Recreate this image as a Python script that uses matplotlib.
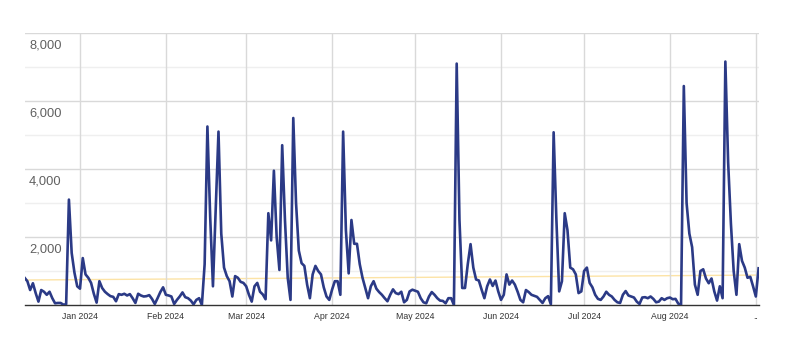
import pandas as pd
import matplotlib
matplotlib.use('Agg')
import matplotlib.pyplot as plt

# daily values, first day 2023-12-12
start_day = '2023-12-12'
visits = [
    800, 700, 440, 640, 350, 100, 440, 390, 300, 390,       # Dec 12 - 21
    200, 50, 60, 60, 10, 20, 3100, 1530, 950, 550,          # Dec 22 - 31
    480, 1380, 900, 800, 650, 330, 70, 700, 500, 390,       # Jan 1 - 10
    320, 260, 240, 110, 320, 300, 330, 280, 320, 200,
    60, 330, 280, 250, 260, 290, 180, 30, 200, 380,
    520,
    300, 280, 250, 30, 150, 250, 370, 230, 200, 130,        # Feb
    20, 150, 200, 0, 1200, 5250, 2600, 550, 2800, 5100,
    2100, 1100, 850, 700, 250, 850, 800, 680, 650,
    550, 300, 100, 550, 650, 390, 310, 170, 2700, 1900,     # Mar
    3950, 2000, 1030, 4700, 2500, 800, 150, 5500, 3000, 1600,
    1230, 1150, 600, 200, 900, 1150, 1000, 900, 520, 250,
    150,
    450, 700, 700, 300, 5100, 2200, 930, 2500, 1800, 1800,  # Apr
    1200, 800, 500, 200, 550, 700, 480, 380, 300, 200,
    110, 300, 460, 350, 320, 390, 80, 150, 400, 450,
    420, 390, 200, 80, 50, 250, 380, 300, 200, 130,         # May
    120, 50, 200, 200, 0, 7100, 2500, 500, 500, 1200,
    1790, 1100, 750, 720, 450, 200, 550, 750, 560, 720,
    400,
    150, 300, 900, 600, 720, 600, 390, 150, 80, 440,        # Jun
    380, 300, 270, 240, 150, 60, 200, 260, 20, 5080,
    2500, 400, 700, 2700, 2200, 1100, 1050, 900, 350, 400,
    1000, 1100, 650, 520, 300, 180, 150, 250, 390, 300,     # Jul
    250, 150, 80, 60, 300, 410, 280, 250, 220, 100,
    30, 220, 230, 200, 250, 180, 80, 100, 200, 150,
    200,
    220, 170, 180, 40, 0, 6440, 3000, 2100, 1700, 600,      # Aug
    300, 1000, 1050, 780, 640, 780, 400, 130, 550, 200,
    7160, 4200, 2400, 1000, 300, 1790, 1300, 1100, 800, 830,
    550,
    250, 1080,                                              # Sep
]
trend_ends = [735, 880]

month_starts = ['2024-01-01', '2024-02-01', '2024-03-01', '2024-04-01',
                '2024-05-01', '2024-06-01', '2024-07-01', '2024-08-01',
                '2024-09-01']
month_labels = ['Jan 2024', 'Feb 2024', 'Mar 2024', 'Apr 2024', 'May 2024',
                'Jun 2024', 'Jul 2024', 'Aug 2024', '..']
y_major = [2000, 4000, 6000, 8000]
y_minor = [1000, 3000, 5000, 7000]

plt.rcParams['font.family'] = ['Liberation Sans', 'DejaVu Sans']

dates = pd.date_range(start_day, periods=len(visits), freq='D')
ticks = pd.to_datetime(month_starts)

fig = plt.figure(figsize=(7.99, 3.42), dpi=100)
ax = fig.add_axes([24.6 / 799, 1 - 305 / 342, 734 / 799, 272 / 342])

for v in y_minor:
    ax.axhline(v, color='#efefef', lw=1, zorder=0)
for v in y_major:
    ax.axhline(v, color='#d9d9d9', lw=1, zorder=0)
    ax.annotate(f'{v:,}', xy=(0, v), xycoords=('axes fraction', 'data'),
                xytext=(3.2, -4.6), textcoords='offset points',
                ha='left', va='top', fontsize=9.3, color='#606060')

ax.plot([dates[0], dates[-1]], trend_ends, color='#fce3a6', lw=1, zorder=1)
ax.plot(dates, visits, color='#2b3a86', lw=1.9, zorder=3,
        solid_joinstyle='round')

ax.set_xlim(dates[0], dates[-1])
ax.set_ylim(0, 8000)
ax.set_yticks([])
ax.set_xticks(ticks)
ax.set_xticklabels(month_labels, fontsize=6.3, color='#333333')
ax.tick_params(axis='x', length=0, pad=5)
ax.grid(axis='x', color='#d9d9d9', lw=1, zorder=0)

for s in ['top', 'left', 'right']:
    ax.spines[s].set_visible(False)
ax.spines['bottom'].set_color('#333333')
ax.spines['bottom'].set_linewidth(1)

fig.savefig('out.png', dpi=100)
